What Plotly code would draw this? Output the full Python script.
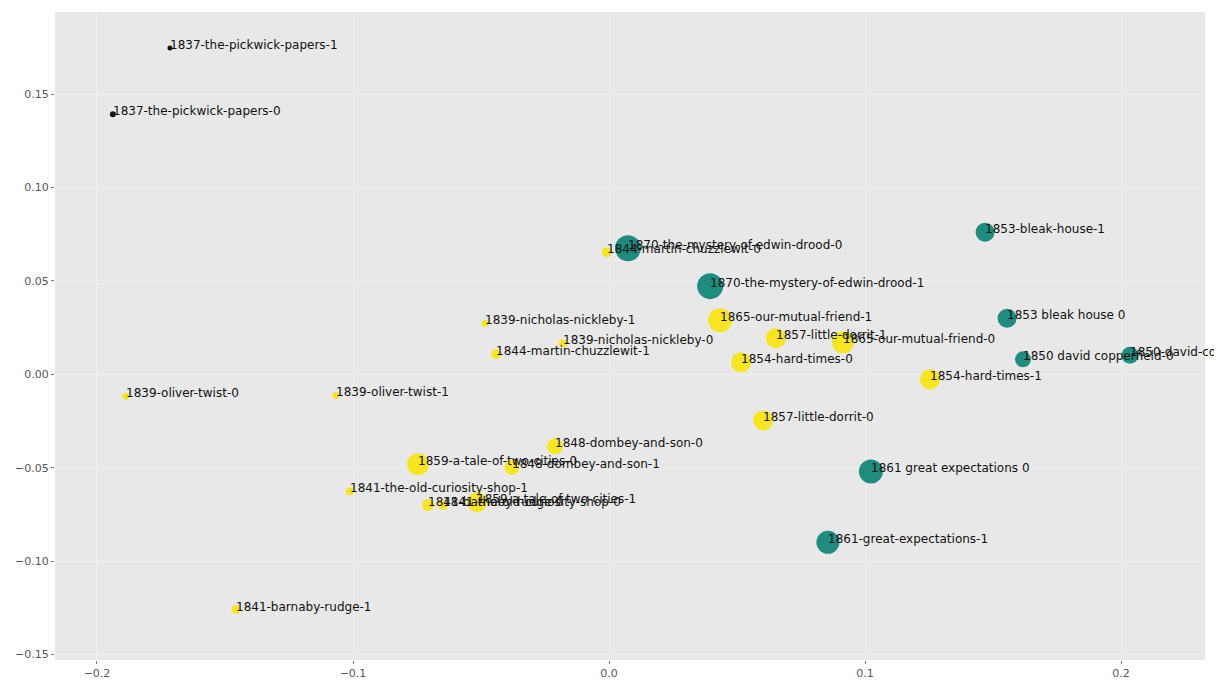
import plotly.graph_objects as go

labels = [
    "1837-the-pickwick-papers-1", "1837-the-pickwick-papers-0",
    "1844-martin-chuzzlewit-0", "1870-the-mystery-of-edwin-drood-0",
    "1870-the-mystery-of-edwin-drood-1", "1853-bleak-house-1",
    "1865-our-mutual-friend-1", "1839-nicholas-nickleby-1",
    "1853 bleak house 0", "1857-little-dorrit-1",
    "1865-our-mutual-friend-0", "1839-nicholas-nickleby-0",
    "1844-martin-chuzzlewit-1", "1850 david copperfield-0",
    "1850-david-copperfield-1", "1854-hard-times-0",
    "1854-hard-times-1", "1839-oliver-twist-0",
    "1839-oliver-twist-1", "1857-little-dorrit-0",
    "1848-dombey-and-son-0", "1859-a-tale-of-two-cities-0",
    "1848-dombey-and-son-1", "1861 great expectations 0",
    "1841-the-old-curiosity-shop-1", "1841-barnaby-rudge-0",
    "1841-the-old-curiosity-shop-0", "1859-a-tale-of-two-cities-1",
    "1861-great-expectations-1", "1841-barnaby-rudge-1",
]
x_vals = [
    -0.1715, -0.1938,
    -0.0008, 0.0074,
    0.0395, 0.1469,
    0.0434, -0.0484,
    0.1555, 0.0652,
    0.0914, -0.0180,
    -0.0441, 0.1617,
    0.2035, 0.0516,
    0.1254, -0.1887,
    -0.1066, 0.0602,
    -0.0211, -0.0746,
    -0.0379, 0.1023,
    -0.1012, -0.0707,
    -0.0648, -0.0515,
    0.0855, -0.1457,
]
y_vals = [
    0.1747, 0.1393,
    0.0654, 0.0675,
    0.0472, 0.0761,
    0.0289, 0.0273,
    0.0300, 0.0193,
    0.0171, 0.0166,
    0.0107, 0.0080,
    0.0102, 0.0064,
    -0.0027, -0.0118,
    -0.0113, -0.0247,
    -0.0386, -0.0482,
    -0.0498, -0.0520,
    -0.0627, -0.0700,
    -0.0700, -0.0685,
    -0.0900, -0.1260,
]
sizes = [
    5, 6,
    10, 26,
    26, 19,
    24, 7,
    19, 20,
    22, 8,
    10, 16,
    17, 20,
    20, 7,
    7, 20,
    16, 22,
    15, 24,
    8, 12,
    10, 20,
    23, 9,
]
groups = [
    0, 0,
    1, 2,
    2, 2,
    1, 1,
    2, 1,
    1, 1,
    1, 2,
    2, 1,
    1, 1,
    1, 1,
    1, 1,
    1, 2,
    1, 1,
    1, 1,
    2, 1,
]
x_ticks = [-0.2, -0.1, 0.0, 0.1, 0.2]
x_tick_text = ["\u22120.2", "\u22120.1", "0.0", "0.1", "0.2"]
y_ticks = [-0.15, -0.10, -0.05, 0.00, 0.05, 0.10, 0.15]
y_tick_text = ["\u22120.15", "\u22120.10", "\u22120.05", "0.00", "0.05", "0.10", "0.15"]

palette = {0: "#151515", 1: "#f6e51f", 2: "#1f8c80"}
colors = [palette[g] for g in groups]

fig = go.Figure()
fig.add_trace(go.Scatter(
    x=x_vals, y=y_vals, mode="markers",
    marker=dict(size=sizes, color=colors, line=dict(width=0), opacity=1),
    hoverinfo="text", text=labels, showlegend=False,
))

for lx, ly, lt in zip(x_vals, y_vals, labels):
    fig.add_annotation(
        x=lx, y=ly, text=lt, showarrow=False,
        xanchor="left", yanchor="middle", yshift=3, xshift=-2,
        font=dict(family="DejaVu Sans", size=12, color="#111111"),
    )

axis_common = dict(
    showgrid=True, gridcolor="#EFEFEF", gridwidth=1,
    zeroline=False, showline=False, automargin=False,
    ticks="outside", ticklen=3, tickcolor="#777777",
    tickfont=dict(family="DejaVu Sans", size=11, color="#555555"),
)
fig.update_xaxes(range=[-0.2164, 0.2328], tickvals=x_ticks, ticktext=x_tick_text, **axis_common)
fig.update_yaxes(range=[-0.153, 0.194], tickvals=y_ticks, ticktext=y_tick_text, **axis_common)

fig.update_layout(
    width=1214, height=672,
    margin=dict(l=47, r=17, t=4, b=20, autoexpand=False),
    plot_bgcolor="#E8E8E8", paper_bgcolor="white",
)

fig.write_html("out.html")
